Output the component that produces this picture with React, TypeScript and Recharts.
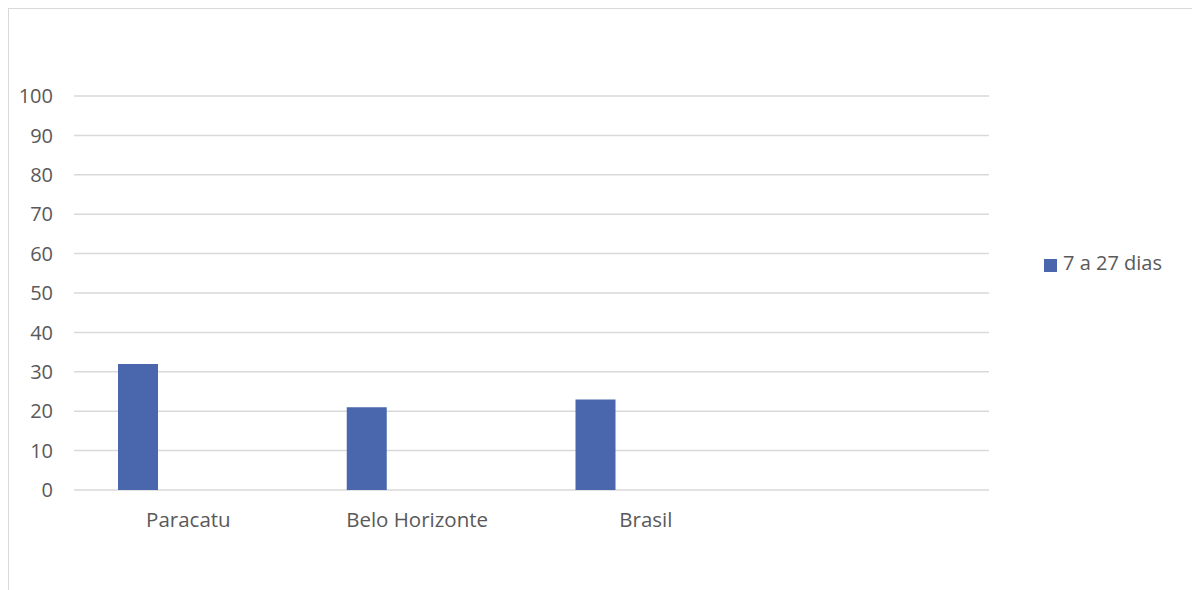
import React from "react";
import { BarChart, Bar, XAxis, YAxis, CartesianGrid, Legend } from "recharts";

const categories = ["Paracatu", "Belo Horizonte", "Brasil", ""];
const seriesName = "7 a 27 dias";
const values: (number | null)[] = [32, 21, 23, null];
const emptySeries: (number | null)[] = [null, null, null, null];
const yTicks = [0, 10, 20, 30, 40, 50, 60, 70, 80, 90, 100];

const data = categories.map((c, i) => ({ cat: c, v: values[i], e: emptySeries[i] }));

const FONT = "'Open Sans', Lato, sans-serif";
const TEXT = "#595959";

export default function App() {
  return (
    <div
      style={{
        position: "relative",
        width: 1192,
        height: 582,
        borderTop: "1px solid #d9d9d9",
        borderLeft: "1px solid #d9d9d9",
        boxSizing: "border-box",
        fontFamily: FONT,
      }}
    >
      <BarChart
        width={1191}
        height={581}
        data={data}
        margin={{ top: 87, right: 51, bottom: 60, left: 0 }}
        barSize={40}
        barGap={61}
      >
        <CartesianGrid vertical={false} stroke="#d9d9d9" strokeWidth={1.5} />
        <XAxis
          dataKey="cat"
          axisLine={false}
          tickLine={false}
          tickSize={0}
          tickMargin={22}
          height={40}
          interval={0}
          tick={{ fill: TEXT, fontSize: 20.5, fontFamily: FONT }}
        />
        <YAxis
          domain={[0, 100]}
          ticks={yTicks}
          axisLine={false}
          tickLine={false}
          tickSize={0}
          tickMargin={21}
          width={65}
          interval={0}
          tick={{ fill: TEXT, fontSize: 20, fontFamily: FONT }}
        />
        <Legend
          layout="vertical"
          align="right"
          verticalAlign="middle"
          iconType="square"
          iconSize={13}
          wrapperStyle={{ left: 1035, top: 240, right: "auto", bottom: "auto", width: 160 }}
          formatter={(value: string) => (
            <span style={{ color: TEXT, fontSize: 20, fontFamily: FONT, marginLeft: 2 }}>{value}</span>
          )}
        />
        <Bar dataKey="v" name={seriesName} fill="#4a66ac" isAnimationActive={false} />
        <Bar dataKey="e" name="" fill="#4a66ac" legendType="none" isAnimationActive={false} />
      </BarChart>
    </div>
  );
}
